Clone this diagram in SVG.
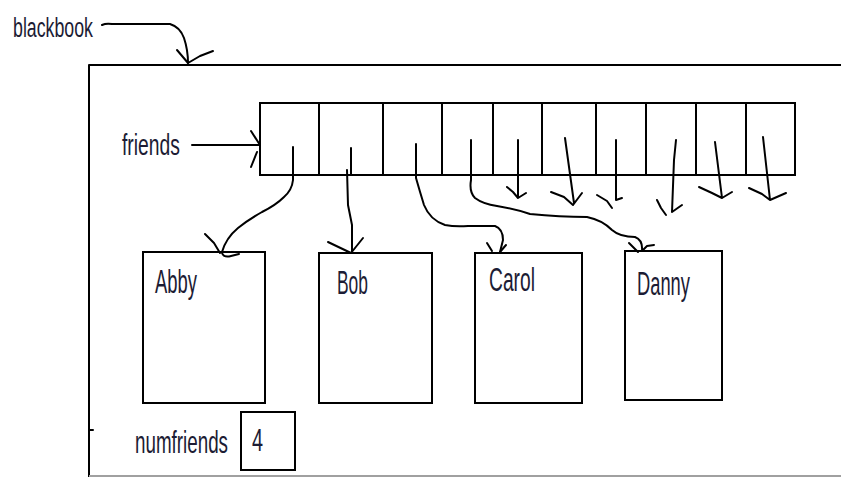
<svg xmlns="http://www.w3.org/2000/svg" width="841" height="477" viewBox="0 0 841 477">
  <style>
    .ln { fill: none; stroke: #000; stroke-width: 2; stroke-linecap: round; stroke-linejoin: round; }
    .box { fill: none; stroke: #000; stroke-width: 2; }
    .lbl { font-family: "Liberation Sans", Arial, sans-serif; fill: #1c1c34; }
  </style>
  <rect width="841" height="477" fill="#fff"/>

  <!-- outer blackbook object -->
  <g id="blackbook">
    <path class="ln" d="M89,477 L89,65 L841,65"/>
    <path class="ln" d="M89,430 L93,430"/>
    <path d="M89,476 L841,476" stroke="#a0a0a0" stroke-width="2" fill="none"/>
    <text class="lbl" font-size="27" transform="translate(13,37) scale(0.658,1)">blackbook</text>
  </g>

  <!-- friends array -->
  <g id="friends">
    <text class="lbl" font-size="30" transform="translate(122,155) scale(0.644,1)">friends</text>
    <rect class="box" x="260" y="103" width="535" height="72"/>
    <path class="ln" d="M319,103 V175 M383,103 V175 M442,103 V175 M493,103 V175 M542,103 V175 M596,103 V175 M646,103 V175 M696,103 V175 M746,103 V175"/>
  </g>

  <!-- friend records -->
  <g id="abby">
    <rect class="box" x="143" y="252" width="122" height="151"/>
    <text class="lbl" font-size="34" transform="translate(155,293) scale(0.542,1)">Abby</text>
  </g>
  <g id="bob">
    <rect class="box" x="319" y="253" width="113" height="150"/>
    <text class="lbl" font-size="34" transform="translate(337,294) scale(0.512,1)">Bob</text>
  </g>
  <g id="carol">
    <rect class="box" x="475" y="253" width="107" height="150"/>
    <text class="lbl" font-size="34" transform="translate(489,291) scale(0.566,1)">Carol</text>
  </g>
  <g id="danny">
    <rect class="box" x="625" y="251" width="97" height="149"/>
    <text class="lbl" font-size="34" transform="translate(637,295) scale(0.539,1)">Danny</text>
  </g>

  <!-- numfriends field -->
  <g id="numfriends">
    <text class="lbl" font-size="31" transform="translate(135,453) scale(0.607,1)">numfriends</text>
    <rect class="box" x="241" y="412" width="54" height="58"/>
    <text class="lbl" font-size="31" transform="translate(252,451) scale(0.64,1)">4</text>
  </g>

  <!-- connectors -->
  <g id="connectors">
    <!-- blackbook -> object -->
    <path class="ln" d="M102,25 Q106,23 112,24 L170,24 Q180,27 184,38 Q188,50 188,63"/>
    <path class="ln" d="M177,50 L188,63 L200,56 L213,51"/>

    <!-- friends -> array -->
    <path class="ln" d="M192,145 L260,145"/>
    <path class="ln" d="M251,131 L260,145 M251,167 L257,152"/>

    <!-- slot 0 -> Abby -->
    <path class="ln" d="M293,147 L293,180 Q292,190 284,197 Q276,205 262,212 Q248,220 238,228 Q226,238 222,252"/>
    <path class="ln" d="M205,234 L214,243 L220,253 M222,253 Q224,258 231,256 L239,254"/>

    <!-- slot 1 -> Bob -->
    <path class="ln" d="M351,148 L351,174 M347,170 L348,205 L352,225 L352,252"/>
    <path class="ln" d="M328,242 L351,253 L363,238"/>

    <!-- slot 2 -> Carol -->
    <path class="ln" d="M416,144 L416,178 Q420,192 424,205 Q430,220 445,225 Q455,227 468,226 L495,226 Q503,229 503,240 L500,252"/>
    <path class="ln" d="M487,243 L492,251 M500,252 L506,245"/>

    <!-- slot 3 -> Danny -->
    <path class="ln" d="M471,140 L471,180 Q469,192 475,198 Q483,204 497,206 Q515,209 530,214 Q560,217 587,217 Q602,220 612,230 Q620,237 635,237 Q643,240 642,251"/>
    <path class="ln" d="M629,243 L638,252 M642,251 L647,246 L654,245"/>

    <!-- remaining slots -->
    <path class="ln" d="M518,140 L518,198 M507,187 L513,192 L518,198 L526,193"/>
    <path class="ln" d="M565,138 L574,203 M551,192 L564,197 L573,205 L582,193"/>
    <path class="ln" d="M616,140 L616,200 M597,195 L607,201 L612,208 M616,200 L622,198"/>
    <path class="ln" d="M676,140 L674,160 L672,212 M657,200 L661,208 L666,215 M672,212 L682,205"/>
    <path class="ln" d="M715,142 L722,198 M699,187 L712,193 L722,198 L732,192"/>
    <path class="ln" d="M763,137 L770,200 M749,188 L762,194 L770,200 L786,193"/>
  </g>
</svg>
